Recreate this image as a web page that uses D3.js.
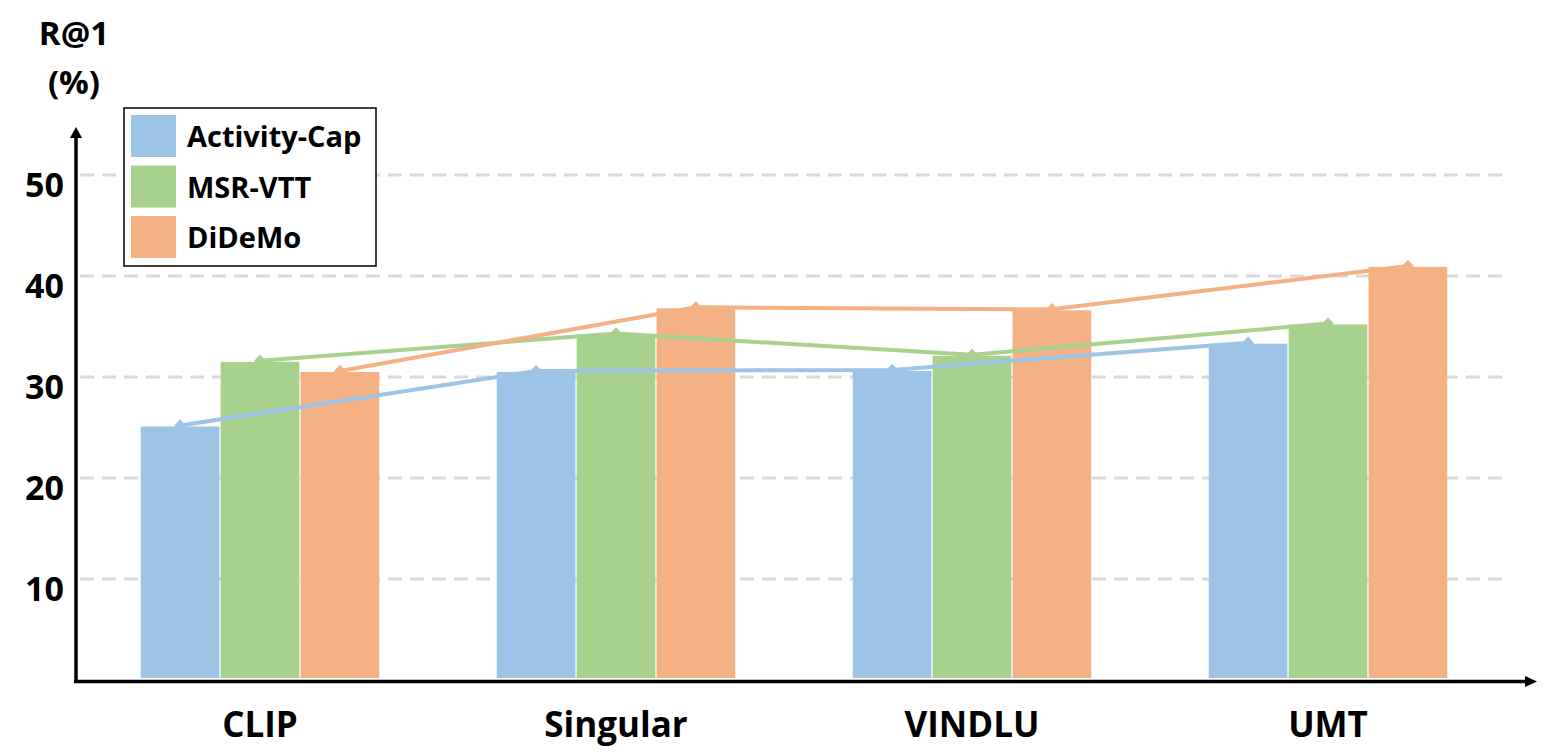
<!DOCTYPE html>
<html>
<head>
<meta charset="utf-8">
<script src="https://cdn.jsdelivr.net/npm/d3@7"></script>
<style>
  body { margin: 0; background: #fff; }
  svg text { font-family: "Open Sans", "Noto Sans", sans-serif; font-weight: bold; fill: #000; }
</style>
</head>
<body>
<svg id="chart" width="1551" height="755"></svg>
<script>
var categories = ["CLIP", "Singular", "VINDLU", "UMT"];
var seriesNames = ["Activity-Cap", "MSR-VTT", "DiDeMo"];
var activityCap = [25.1, 30.5, 30.6, 33.3];
var msrVtt = [31.5, 34.2, 32.1, 35.2];
var didemo = [30.5, 36.8, 36.6, 40.9];
var yTicks = [10, 20, 30, 40, 50];
var colors = ["#9DC3E6", "#A9D18E", "#F4B183"];

var allSeries = [activityCap, msrVtt, didemo];

var svg = d3.select("#chart");

// y: 0 at 680, 50 at 175
var y = d3.scaleLinear().domain([0, 50]).range([680, 175]);

var x = d3.scaleBand()
    .domain(categories)
    .range([82, 1506])
    .paddingInner(0.33)
    .paddingOuter(0.165);

var xs = d3.scaleBand()
    .domain(seriesNames)
    .range([0, x.bandwidth()])
    .paddingInner(0.015);

// grid lines
svg.append("g").selectAll("line")
    .data(yTicks)
    .enter().append("line")
    .attr("x1", 80).attr("x2", 1506)
    .attr("y1", function(d) { return y(d); })
    .attr("y2", function(d) { return y(d); })
    .attr("stroke", "#d9d9d9")
    .attr("stroke-width", 3)
    .attr("stroke-dasharray", "14,8");

// y tick labels (sit a bit below their grid line)
svg.append("g").selectAll("text")
    .data(yTicks)
    .enter().append("text")
    .attr("x", 64)
    .attr("y", function(d) { return y(d) + 22; })
    .attr("text-anchor", "end")
    .style("font-size", "34px")
    .text(function(d) { return d; });

// bars
seriesNames.forEach(function(name, si) {
  svg.append("g").selectAll("rect")
      .data(allSeries[si])
      .enter().append("rect")
      .attr("x", function(d, i) { return x(categories[i]) + xs(name); })
      .attr("width", xs.bandwidth())
      .attr("y", function(d) { return y(d); })
      .attr("height", function(d) { return 678 - y(d); })
      .attr("fill", colors[si]);
});

// lines + markers
seriesNames.forEach(function(name, si) {
  var line = d3.line()
      .x(function(d, i) { return x(categories[i]) + xs(name) + xs.bandwidth() / 2; })
      .y(function(d) { return y(d) - 1; });
  svg.append("path")
      .datum(allSeries[si])
      .attr("d", line)
      .attr("fill", "none")
      .attr("stroke", colors[si])
      .attr("stroke-width", 4);
  svg.append("g").selectAll("path")
      .data(allSeries[si])
      .enter().append("path")
      .attr("d", d3.symbol().type(d3.symbolDiamond).size(70))
      .attr("transform", function(d, i) {
        return "translate(" + (x(categories[i]) + xs(name) + xs.bandwidth() / 2) + "," + (y(d) - 1) + ") scale(1.3,0.8)";
      })
      .attr("fill", colors[si]);
});

// axes with arrows
svg.append("line")
    .attr("x1", 76).attr("x2", 76)
    .attr("y1", 683).attr("y2", 137)
    .attr("stroke", "#000").attr("stroke-width", 3.5);
svg.append("path")
    .attr("d", "M70,138 L76,127 L82,138 Z")
    .attr("fill", "#000");
svg.append("line")
    .attr("x1", 74).attr("x2", 1526)
    .attr("y1", 681.5).attr("y2", 681.5)
    .attr("stroke", "#000").attr("stroke-width", 3.5);
svg.append("path")
    .attr("d", "M1525,676 L1537,681.5 L1525,687 Z")
    .attr("fill", "#000");

// category labels
svg.append("g").selectAll("text")
    .data(categories)
    .enter().append("text")
    .attr("x", function(d) { return x(d) + x.bandwidth() / 2; })
    .attr("y", 737)
    .attr("text-anchor", "middle")
    .style("font-size", "35px")
    .text(function(d) { return d; });

// y title
svg.append("text").attr("x", 74).attr("y", 45).attr("text-anchor", "middle")
    .style("font-size", "33px").text("R@1");
svg.append("text").attr("x", 74).attr("y", 94).attr("text-anchor", "middle")
    .style("font-size", "33px").text("(%)");

// legend
var legend = svg.append("g");
legend.append("rect")
    .attr("x", 124).attr("y", 108)
    .attr("width", 252).attr("height", 158)
    .attr("fill", "#fff")
    .attr("stroke", "#000").attr("stroke-width", 1.5);
seriesNames.forEach(function(name, i) {
  legend.append("rect")
      .attr("x", 131).attr("y", 115 + i * 50.5)
      .attr("width", 45).attr("height", 42)
      .attr("fill", colors[i]);
  legend.append("text")
      .attr("x", 187).attr("y", 147 + i * 50.5)
      .style("font-size", "29px")
      .text(name);
});
</script>
</body>
</html>
